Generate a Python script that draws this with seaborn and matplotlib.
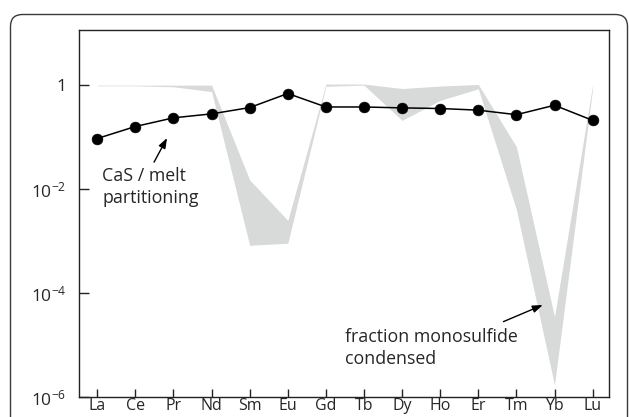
import matplotlib
matplotlib.use("Agg")
import matplotlib.pyplot as plt
import numpy as np
import pandas as pd
import seaborn as sns
from matplotlib.patches import FancyBboxPatch

# ── Data ──────────────────────────────────────────────────────────────────────
elements = ["La", "Ce", "Pr", "Nd", "Sm", "Eu", "Gd", "Tb", "Dy", "Ho", "Er", "Tm", "Yb", "Lu"]
cas_melt = [0.094, 0.16, 0.235, 0.28, 0.37, 0.69, 0.38, 0.38, 0.365, 0.355, 0.33, 0.27, 0.41, 0.21]
band_upper = [1.0, 1.0, 1.0, 1.0, 0.015, 2.5e-3, 1.05, 1.05, 0.86, 0.96, 1.03, 0.065, 3.5e-5, 1.0]
band_lower = [0.97, 0.97, 0.93, 0.75, 8.3e-4, 9.1e-4, 0.95, 1.0, 0.21, 0.51, 0.85, 4.0e-3, 1.7e-6, 0.85]
ytick_vals = [1e-6, 1e-4, 1e-2, 1]
ytick_labels = [r"$\mathregular{10^{-6}}$", r"$\mathregular{10^{-4}}$",
                r"$\mathregular{10^{-2}}$", "1"]

sns.set_style("white")
plt.rcParams["font.family"] = ["Open Sans", "DejaVu Sans"]

df = pd.DataFrame({"pos": np.arange(len(elements)), "element": elements, "D": cas_melt})

fig = plt.figure(figsize=(6.29, 4.17), dpi=100)

# ── Rounded outer frame ───────────────────────────────────────────────────────
bg = fig.add_axes([0, 0, 1, 1])
bg.set_xlim(0, 629)
bg.set_ylim(417, 0)
bg.axis("off")
bg.add_patch(FancyBboxPatch((10.5, 14.5), 617, 450,
                            boxstyle="round,pad=0,rounding_size=12",
                            fc="none", ec="#3a3a3a", lw=1.0))

ax = fig.add_axes([79 / 629, 1 - 397 / 417, 530 / 629, 367 / 417])
ax.set_facecolor("white")

ax.fill_between(df["pos"], band_lower, band_upper, color="#d8d9d9", lw=0, zorder=1)
sns.lineplot(data=df, x="pos", y="D", ax=ax, color="black", lw=1.1,
             marker="o", markersize=7.8, markeredgewidth=0.4,
             markeredgecolor="black", zorder=3)

ax.set_yscale("log")
ax.set_ylim(1e-6, 11.5)
ax.set_xlim(-0.48, 13.43)
ax.set_yticks(ytick_vals)
ax.set_yticklabels(ytick_labels)
ax.minorticks_off()
ax.set_xticks(df["pos"])
ax.set_xticklabels(elements)
ax.set_xlabel("")
ax.set_ylabel("")

ax.tick_params(axis="y", direction="in", length=7, width=1, pad=9,
               labelsize=12.5, color="#222222", left=True)
ax.tick_params(axis="x", direction="in", length=6, width=1, pad=0.5,
               labelsize=11.5, color="#222222", bottom=True)
for sp in ax.spines.values():
    sp.set_visible(True)
    sp.set_color("#222222")
    sp.set_linewidth(1.0)

# ── Annotations ───────────────────────────────────────────────────────────────
arrow = dict(arrowstyle="-|>,head_length=0.6,head_width=0.22", color="black", lw=1.0,
             shrinkA=0, shrinkB=0)
ax.annotate("", xy=(1.83, 0.096), xytext=(1.49, 0.033), arrowprops=arrow)
ax.text(0.13, 10 ** -1.96, "CaS / melt\npartitioning", fontsize=12.8,
        ha="left", va="center", linespacing=1.32)

ax.annotate("", xy=(11.69, 10 ** -4.23), xytext=(10.66, 10 ** -4.55), arrowprops=arrow)
ax.text(6.5, 10 ** -5.06, "fraction monosulfide\ncondensed", fontsize=12.8,
        ha="left", va="center", linespacing=1.32)

fig.savefig("out.png", dpi=100)
